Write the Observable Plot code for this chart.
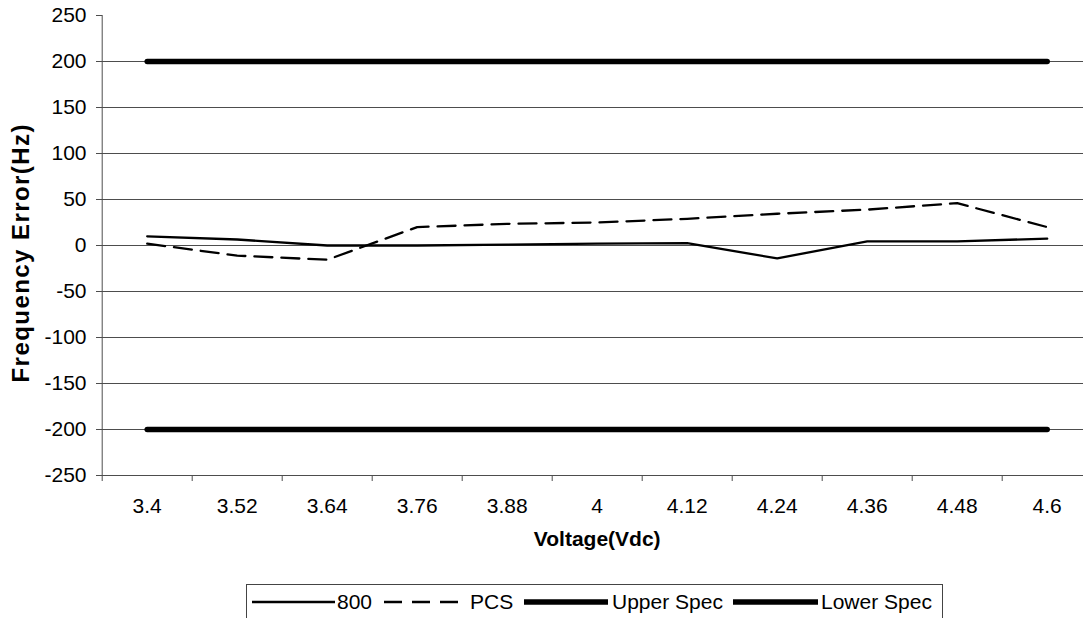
<!DOCTYPE html>
<html>
<head>
<meta charset="utf-8">
<script src="https://cdn.jsdelivr.net/npm/d3@7"></script>
<script src="https://cdn.jsdelivr.net/npm/@observablehq/plot@0.6"></script>
<style>
  html, body { margin: 0; padding: 0; background: #fff; }
  #wrap { position: relative; width: 1083px; height: 618px; overflow: hidden; font-family: "Liberation Sans", Arial, sans-serif; }
  #legend { position: absolute; left: 246px; top: 584px; width: 697px; height: 40px; box-sizing: border-box; border: 1px solid #444; background: #fff; }
</style>
</head>
<body>
<div id="wrap"></div>
<script>
// ---- data ----
const voltages = ["3.4", "3.52", "3.64", "3.76", "3.88", "4", "4.12", "4.24", "4.36", "4.48", "4.6"];
const series800 = [10, 6.5, 0, 0, 1, 2, 2.5, -14, 4.5, 4.5, 7.5];
const seriesPCS = [2, -11, -15.5, 20, 23.5, 25, 29, 34.5, 39, 46, 20];
const upperSpec = [200, 200, 200, 200, 200, 200, 200, 200, 200, 200, 200];
const lowerSpec = [-200, -200, -200, -200, -200, -200, -200, -200, -200, -200, -200];
const yTicks = [-250, -200, -150, -100, -50, 0, 50, 100, 150, 200, 250];
const gridValues = [-200, -150, -100, -50, 0, 50, 100, 150, 200];
const seriesNames = ["800", "PCS", "Upper Spec", "Lower Spec"];
const yTitle = "Frequency Error(Hz)";
const xTitle = "Voltage(Vdc)";

const idx = voltages.map((_, i) => i);
const rows = (vals) => vals.map((v, i) => ({i, v}));
const boundaries = d3.range(-0.5, voltages.length, 1);

const FONT = "\"Liberation Sans\", Arial, sans-serif";
const grid = "#4d4d4d";

const chart = Plot.plot({
  width: 1083,
  height: 580,
  marginLeft: 102,
  marginRight: 0,
  marginTop: 15,
  marginBottom: 105,
  style: {fontFamily: FONT, fontSize: "21px", background: "#fff", color: "#000"},
  x: {type: "linear", domain: [-0.5, voltages.length - 0.5], range: [101.7, 101.7 + 90 * voltages.length]},
  y: {domain: [-250, 250]},
  marks: [
    Plot.ruleY(gridValues, {stroke: grid, strokeWidth: 1}),
    Plot.ruleY([-250], {stroke: grid, strokeWidth: 1}),
    Plot.ruleX([-0.5], {y1: -250, y2: 250, stroke: grid, strokeWidth: 1}),
    Plot.axisY(yTicks, {tickSize: 6, tickPadding: 10, stroke: grid, fontSize: 21, tickFormat: d => String(d), label: null}),
    Plot.axisX(boundaries, {tickSize: 6, tickFormat: () => "", stroke: grid, label: null}),
    Plot.axisX(idx, {tickSize: 0, tickPadding: 23, tickFormat: (i) => voltages[i], fontSize: 21, label: null}),
    Plot.line(rows(upperSpec), {x: "i", y: "v", stroke: "#000", strokeWidth: 5.5}),
    Plot.line(rows(lowerSpec), {x: "i", y: "v", stroke: "#000", strokeWidth: 5.5}),
    Plot.line(rows(seriesPCS), {x: "i", y: "v", stroke: "#000", strokeWidth: 2.3, strokeDasharray: "18,9"}),
    Plot.line(rows(series800), {x: "i", y: "v", stroke: "#000", strokeWidth: 2.3}),
    Plot.text([yTitle], {frameAnchor: "left", textAnchor: "middle", dx: -81, dy: 8, rotate: -90, text: d => d, fontWeight: "bold", fontSize: 24}),
    Plot.text([xTitle], {x: () => (voltages.length - 1) / 2, frameAnchor: "bottom", dy: 70, text: d => d, fontWeight: "bold", fontSize: 21})
  ]
});
// slightly stretch the rotated axis title along its length as in the reference
chart.querySelectorAll("text").forEach(t => {
  if (t.textContent === yTitle) { t.setAttribute("textLength", 258); t.setAttribute("lengthAdjust", "spacing"); }
});
document.getElementById("wrap").appendChild(chart);

// ---- legend (below the SVG) ----
const legend = document.createElement("div");
legend.id = "legend";
const ns = "http://www.w3.org/2000/svg";
const lsvg = document.createElementNS(ns, "svg");
lsvg.setAttribute("width", 695);
lsvg.setAttribute("height", 38);
lsvg.style.display = "block";
const items = [
  {name: seriesNames[0], x1: 5, x2: 88, tx: 90, w: 2.3, dash: null},
  {name: seriesNames[1], x1: 137, x2: 212, tx: 223, w: 2.3, dash: "18,10"},
  {name: seriesNames[2], x1: 277, x2: 361, tx: 365, w: 5.5, dash: null},
  {name: seriesNames[3], x1: 486, x2: 571, tx: 574, w: 5.5, dash: null}
];
for (const it of items) {
  const l = document.createElementNS(ns, "line");
  l.setAttribute("x1", it.x1); l.setAttribute("x2", it.x2);
  l.setAttribute("y1", 17); l.setAttribute("y2", 17);
  l.setAttribute("stroke", "#000"); l.setAttribute("stroke-width", it.w);
  if (it.dash) l.setAttribute("stroke-dasharray", it.dash);
  lsvg.appendChild(l);
  const t = document.createElementNS(ns, "text");
  t.setAttribute("x", it.tx); t.setAttribute("y", 17);
  t.setAttribute("dy", "0.35em");
  t.setAttribute("font-family", FONT);
  t.setAttribute("font-size", 21);
  t.textContent = it.name;
  lsvg.appendChild(t);
}
legend.appendChild(lsvg);
document.getElementById("wrap").appendChild(legend);
</script>
</body>
</html>
